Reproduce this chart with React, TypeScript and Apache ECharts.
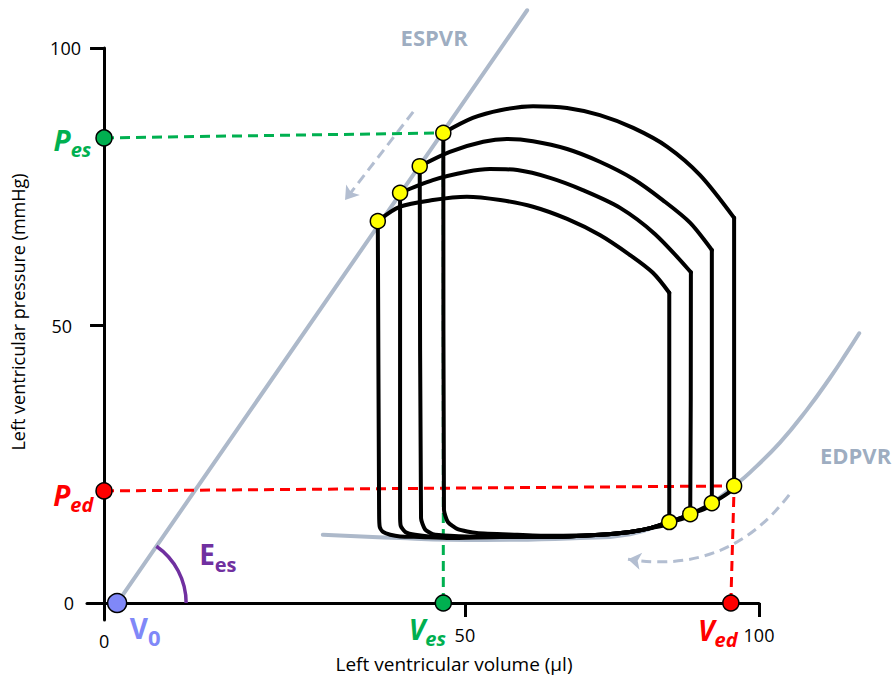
import React, { useEffect, useRef } from 'react';
import * as echarts from 'echarts';

const FONT = '"Open Sans", "Noto Sans", sans-serif';
const GREEN = '#00b050';
const RED = '#ff0000';
const PURPLE = '#7030a0';
const V0_COLOR = '#8088f8';
const GREY_LINE = '#adb9ca';
const GREY_TEXT = '#8497b0';
const ARROW_GREY = '#b3bed1';

// ---- axis ticks / labels ----
const X_LABEL_VALUES = [0, 55.1, 100];
const X_LABEL_TEXT = ['0', '50', '100'];
const X_TICK_VALUES = [55.1, 100];
const Y_LABEL_VALUES = [0, 50, 100];
const Y_LABEL_TEXT = ['0', '50', '100'];
const Y_TICK_VALUES = [50, 100];

// ---- relations ----
const ESPVR = [[2.0, 0], [64.6, 106.8]];
const EDPVR = [
  [33.4, 12.3], [45.2, 11.7], [52.8, 11.4], [63.5, 11.4], [72.7, 11.7], [80.3, 12.4],
  [86.3, 14.6], [89.5, 16.0], [92.8, 18.0], [96.2, 21.1], [98.6, 23.5], [103.2, 28.9],
  [107.3, 34.8], [110.8, 40.5], [113.4, 45.1], [115.3, 48.6],
];

// ---- PV loops: ejection arc (ES point -> top-right corner) and remainder ----
const LOOP1_ARC = [
  [41.8, 68.8], [45.2, 71.4], [50.2, 72.6], [55.4, 73.2], [60.5, 72.6], [65.5, 71.4],
  [70.7, 69.2], [75.7, 66.3], [80.3, 62.7], [83.8, 59.5], [86.3, 55.9],
];
const LOOP1_REST = [
  [86.3, 55.9], [86.3, 14.6], [83.4, 13.5], [80.3, 12.8], [75.7, 12.3], [68.1, 11.9],
  [60.5, 11.9], [52.8, 11.7], [48.2, 11.9], [45.2, 12.0], [43.7, 12.3], [42.6, 12.8],
  [42.1, 13.7], [42.0, 15.9], [41.8, 68.8],
];
const LOOP2_ARC = [
  [45.2, 73.9], [50.2, 76.2], [55.4, 77.7], [58.9, 78.2], [63.1, 78.0], [68.1, 76.6],
  [73.1, 74.4], [78.8, 71.2], [84.1, 66.5], [89.6, 59.6],
];
const LOOP2_REST = [
  [89.6, 59.6], [89.5, 16.0], [86.3, 14.6], [83.4, 13.5], [80.3, 12.8], [75.7, 12.3],
  [68.1, 11.9], [57.4, 11.9], [51.3, 11.9], [47.5, 12.3], [46.0, 12.8], [45.3, 13.9],
  [45.2, 15.9], [45.2, 73.9],
];
const LOOP3_ARC = [
  [48.2, 78.7], [52.8, 81.3], [57.9, 83.1], [61.5, 83.6], [65.5, 83.2], [70.7, 81.8],
  [75.7, 79.5], [80.8, 76.4], [85.3, 72.6], [89.5, 68.5], [92.8, 63.6],
];
const LOOP3_REST = [
  [92.8, 63.6], [92.8, 18.0], [89.5, 16.0], [86.3, 14.6], [83.4, 13.5], [80.3, 12.8],
  [75.7, 12.3], [68.1, 11.9], [57.4, 11.9], [52.8, 12.1], [50.2, 12.4], [49.0, 13.3],
  [48.4, 15.3], [48.2, 78.7],
];
const LOOP4_ARC = [
  [51.8, 84.7], [56.3, 87.4], [60.5, 88.8], [65.5, 89.5], [70.7, 89.2], [75.7, 87.9],
  [80.8, 85.6], [86.0, 82.2], [91.0, 77.1], [96.2, 69.4],
];
const LOOP4_REST = [
  [96.2, 69.4], [96.2, 21.1], [92.8, 18.0], [89.5, 16.0], [86.3, 14.6], [83.4, 13.5],
  [80.3, 12.8], [75.7, 12.3], [68.1, 12.1], [63.1, 12.3], [56.9, 12.6], [54.0, 13.3],
  [52.5, 14.6], [51.9, 16.8], [51.8, 84.7],
];
const LOOP_ARCS = [LOOP1_ARC, LOOP2_ARC, LOOP3_ARC, LOOP4_ARC];
const LOOP_RESTS = [LOOP1_REST, LOOP2_REST, LOOP3_REST, LOOP4_REST];

const ES_POINTS = [[41.8, 68.8], [45.2, 73.9], [48.2, 78.7], [51.8, 84.7]];
const ED_POINTS = [[86.3, 14.6], [89.5, 16.0], [92.8, 18.0], [96.2, 21.1]];

const V0 = 2.0;
const VES = 51.8;
const VED = 95.7;
const PES = 83.8;
const PED = 20.2;

// dashed direction arrows
const ESPVR_ARROW = [[47.2, 88.5], [36.8, 72.6]];
const EDPVR_ARROW = [[104.6, 19.5], [80.0, 7.9]];

// curve name labels
const ESPVR_LABEL_POS = [50.4, 102.0];
const EDPVR_LABEL_POS = [109.3, 26.7];

const nearestText = (v: number, vals: number[], texts: string[]) => {
  let best = 0;
  for (let i = 1; i < vals.length; i++) if (Math.abs(vals[i] - v) < Math.abs(vals[best] - v)) best = i;
  return texts[best];
};

const subRich = (color: string, italic: boolean, big = 28, small = 20, key: 'color' | 'fill' = 'color') => ({
  m: { fontFamily: FONT, fontSize: big, fontWeight: 'bold', fontStyle: italic ? 'italic' : 'normal', [key]: color, lineHeight: 40 },
  s: { fontFamily: FONT, fontSize: small, fontWeight: 'bold', fontStyle: italic ? 'italic' : 'normal', [key]: color, verticalAlign: 'bottom', lineHeight: 16 },
});

export default function App() {
  const ref = useRef<HTMLDivElement>(null);
  useEffect(() => {
    if (!ref.current) return;
    const chart = echarts.init(ref.current, undefined, { renderer: 'svg' });

    const lineSeries = (data: number[][], color: string, width: number, z: number, extra: any = {}) => ({
      type: 'line',
      data,
      symbol: 'none',
      clip: false,
      silent: true,
      z,
      lineStyle: { color, width, join: 'round', cap: 'round' },
      ...extra,
    });

    const dashed = (data: number[][], color: string) =>
      lineSeries(data, color, 3, 3, { lineStyle: { color, width: 3, type: [10, 6], cap: 'butt' } });

    const series: any[] = [];
    series.push(lineSeries(ESPVR, GREY_LINE, 4, 2));
    // EDPVR: smooth curve through the read points (custom series, mapped by the axes)
    series.push({
      type: 'custom',
      coordinateSystem: 'cartesian2d',
      clip: false,
      silent: true,
      z: 2,
      data: [EDPVR[0]],
      renderItem: (params: any, api: any) => ({
        type: 'polyline',
        shape: { points: EDPVR.map((p) => api.coord(p)), smooth: 0.45 },
        style: { stroke: GREY_LINE, lineWidth: 4, fill: null, lineJoin: 'round', lineCap: 'round' },
      }),
    });
    series.push(dashed([[0, PES], ES_POINTS[3]], GREEN));
    series.push(dashed([[VES, 0], ES_POINTS[3]], GREEN));
    series.push(dashed([[0, PED], ED_POINTS[3]], RED));
    series.push(dashed([[VED, 0], ED_POINTS[3]], RED));
    LOOP_ARCS.forEach((arc) => series.push(lineSeries(arc, '#000', 4, 4, { smooth: 0.3 })));
    LOOP_RESTS.forEach((rest) => series.push(lineSeries(rest, '#000', 4, 4, { smooth: 0.2 })));

    series.push({
      type: 'lines',
      coordinateSystem: 'cartesian2d',
      clip: false,
      silent: true,
      z: 3,
      symbol: ['none', 'arrow'],
      symbolSize: 13,
      lineStyle: { color: ARROW_GREY, width: 3, type: [10, 6], opacity: 1 },
      data: [
        { coords: ESPVR_ARROW, lineStyle: { curveness: 0 } },
        { coords: EDPVR_ARROW, lineStyle: { curveness: 0.3 } },
      ],
    });

    // Ees angle arc
    series.push({
      type: 'custom',
      coordinateSystem: 'cartesian2d',
      clip: false,
      silent: true,
      z: 4,
      data: [[V0, 0]],
      renderItem: (params: any, api: any) => {
        const c = api.coord([api.value(0), api.value(1)]);
        const a = api.coord(ESPVR[0]);
        const b = api.coord(ESPVR[1]);
        const ang = Math.atan2(b[1] - a[1], b[0] - a[0]);
        return {
          type: 'group',
          children: [
            {
              type: 'arc',
              shape: { cx: c[0], cy: c[1], r: 69, startAngle: ang, endAngle: 0, clockwise: true },
              style: { stroke: PURPLE, lineWidth: 3.5, fill: null },
            },
            {
              type: 'text',
              x: c[0] + 82,
              y: c[1] - 49,
              style: {
                text: '{m|E}{s|es}',
                rich: subRich(PURPLE, false, 28, 20, 'fill'),
                fill: PURPLE,
                align: 'left',
                verticalAlign: 'middle',
              },
            },
          ],
        };
      },
    });

    // yellow ES / ED points
    series.push({
      type: 'scatter',
      data: [...ES_POINTS, ...ED_POINTS],
      symbolSize: 15,
      clip: false,
      silent: true,
      z: 6,
      itemStyle: { color: '#ffff00', borderColor: '#000', borderWidth: 1.5, opacity: 1 },
    });

    // axis markers with labels
    series.push({
      type: 'scatter',
      clip: false,
      silent: true,
      z: 7,
      itemStyle: { borderColor: '#000', borderWidth: 1.5, opacity: 1 },
      data: [
        {
          value: [0, PES], symbolSize: 16, itemStyle: { color: GREEN },
          label: { show: true, position: 'left', distance: 4, offset: [0, 2], formatter: '{m|P}{s|es}', rich: subRich(GREEN, true) },
        },
        {
          value: [0, PED], symbolSize: 16, itemStyle: { color: RED },
          label: { show: true, position: 'left', distance: 2, offset: [0, 4], formatter: '{m|P}{s|ed}', rich: subRich(RED, true) },
        },
        {
          value: [VES, 0], symbolSize: 16, itemStyle: { color: GREEN },
          label: { show: true, position: 'bottom', distance: 0, offset: [-16, -3], formatter: '{m|V}{s|es}', rich: subRich(GREEN, true) },
        },
        {
          value: [VED, 0], symbolSize: 16, itemStyle: { color: RED },
          label: { show: true, position: 'bottom', distance: 0, offset: [-13, -2], formatter: '{m|V}{s|ed}', rich: subRich(RED, true) },
        },
        {
          value: [V0, 0], symbolSize: 19, itemStyle: { color: V0_COLOR },
          label: { show: true, position: 'bottom', distance: 0, offset: [28, -5], formatter: '{m|V}{s|0}', rich: subRich(V0_COLOR, false, 28, 22) },
        },
      ],
    });

    // curve names
    series.push({
      type: 'scatter',
      clip: false,
      silent: true,
      z: 5,
      symbolSize: 1,
      itemStyle: { color: 'rgba(0,0,0,0)' },
      data: [
        { value: ESPVR_LABEL_POS, name: 'ESPVR', label: { align: 'center' } },
        { value: EDPVR_LABEL_POS, name: 'EDPVR', label: { align: 'left' } },
      ],
      label: {
        show: true,
        position: 'inside',
        formatter: '{b}',
        fontFamily: FONT,
        fontSize: 22,
        fontWeight: 'bold',
        color: GREY_TEXT,
      },
    });

    const tickFont = { fontFamily: FONT, fontSize: 18, color: '#000' };

    chart.setOption({
      animation: false,
      grid: { left: 87, right: 136, top: 48, bottom: 64, outerBoundsMode: 'none' },
      xAxis: {
        type: 'value',
        min: -2.6,
        max: 100,
        splitLine: { show: false },
        axisLine: { show: true, onZero: true, lineStyle: { color: '#000', width: 3 } },
        axisTick: { show: true, customValues: X_TICK_VALUES, length: 14, lineStyle: { color: '#000', width: 3 } },
        axisLabel: {
          show: true,
          customValues: X_LABEL_VALUES,
          margin: 6,
          ...tickFont,
          formatter: (v: number) => {
            const t = nearestText(v, X_LABEL_VALUES, X_LABEL_TEXT);
            return t === '0' ? '{z|0}' : t;
          },
          rich: { z: { ...tickFont, padding: [6, 0, 0, 0] } },
        },
        name: 'Left ventricular volume (μl)',
        nameLocation: 'middle',
        nameGap: 34,
        nameTextStyle: { fontFamily: FONT, fontSize: 19, color: '#000', padding: [0, 0, 0, 62] },
      },
      yAxis: {
        type: 'value',
        min: -3.06,
        max: 100,
        splitLine: { show: false },
        axisLine: { show: true, onZero: true, lineStyle: { color: '#000', width: 3 } },
        axisTick: { show: true, customValues: Y_TICK_VALUES, length: 14, lineStyle: { color: '#000', width: 3 } },
        axisLabel: {
          show: true,
          customValues: Y_LABEL_VALUES,
          margin: 6,
          ...tickFont,
          formatter: (v: number) => {
            const t = nearestText(v, Y_LABEL_VALUES, Y_LABEL_TEXT);
            return t === '100' ? '{a|100}' : t === '50' ? '{b|50}' : '{c|0}';
          },
          rich: {
            a: { ...tickFont },
            b: { ...tickFont, padding: [0, 9, 0, 0] },
            c: { ...tickFont, padding: [0, 7, 0, 0] },
          },
        },
        name: 'Left ventricular pressure (mmHg)',
        nameLocation: 'middle',
        nameGap: 60,
        nameTextStyle: { fontFamily: FONT, fontSize: 18, color: '#000', padding: [0, 0, 0, 44] },
      },
      series,
    });

    return () => chart.dispose();
  }, []);

  return (
    <div
      ref={ref}
      style={{ position: 'fixed', left: 0, top: 0, width: 895, height: 684, background: '#fff' }}
    />
  );
}
